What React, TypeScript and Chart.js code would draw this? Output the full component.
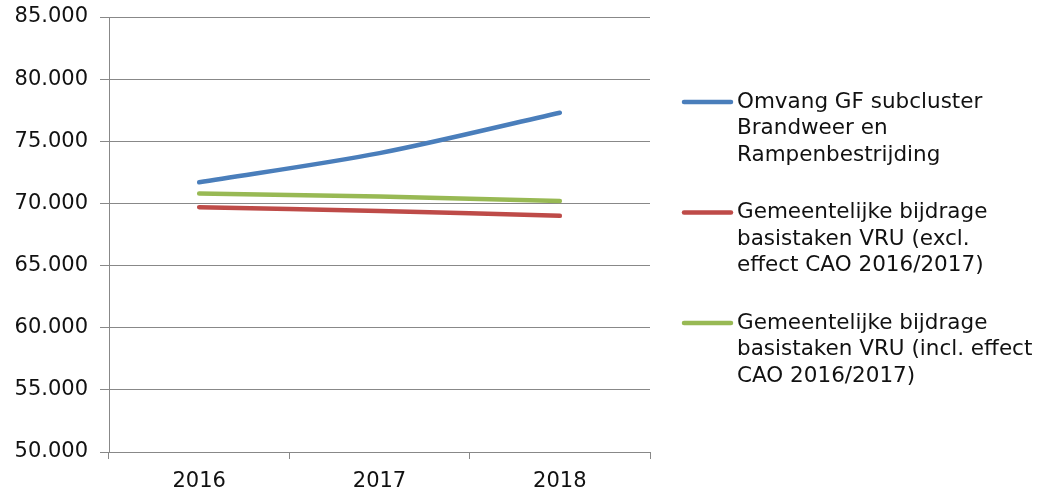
import React, { useEffect, useRef } from "react";
import { Chart, registerables } from "chart.js";

Chart.register(...registerables);

const categories = ["2016", "2017", "2018"];
const seriesNames = [
  ["Omvang GF subcluster", "Brandweer en", "Rampenbestrijding"],
  ["Gemeentelijke bijdrage", "basistaken VRU (excl.", "effect CAO 2016/2017)"],
  ["Gemeentelijke bijdrage", "basistaken VRU (incl. effect", "CAO 2016/2017)"],
];
const omvangGF = [71700, 74050, 77300];
const bijdrageExcl = [69700, 69400, 69000];
const bijdrageIncl = [70800, 70550, 70200];
const seriesColors = ["#4a7ebb", "#be4b48", "#98b954"];
const yMin = 50000;
const yMax = 85000;
const yStep = 5000;

const FONT = "'DejaVu Sans', Verdana, sans-serif";

function formatNL(v: number): string {
  const s = Math.round(v).toString();
  return s.replace(/\B(?=(\d{3})+(?!\d))/g, ".");
}

const legendPlugin = {
  id: "customLegend",
  afterDraw(chart: any) {
    const ctx = chart.ctx;
    ctx.save();
    ctx.font = `21.5px ${FONT}`;
    ctx.textBaseline = "middle";
    ctx.textAlign = "left";
    const startY = 102;
    const itemGap = 110.5;
    const lineH = 26.5;
    chart.data.datasets.forEach((ds: any, i: number) => {
      const y = startY + i * itemGap;
      ctx.strokeStyle = ds.borderColor;
      ctx.lineWidth = 4.5;
      ctx.lineCap = "round";
      ctx.beginPath();
      ctx.moveTo(684, y);
      ctx.lineTo(731, y);
      ctx.stroke();
      ctx.fillStyle = "#111";
      const lines: string[] = ds.legendLines;
      lines.forEach((t, j) => {
        ctx.fillText(t, 737, y + j * lineH);
      });
    });
    ctx.restore();
  },
};

export default function App() {
  const ref = useRef<HTMLCanvasElement | null>(null);
  useEffect(() => {
    document.body.style.margin = "0";
    if (!ref.current) return;
    const values = [omvangGF, bijdrageExcl, bijdrageIncl];
    const chart = new Chart(ref.current, {
      type: "line",
      data: {
        labels: categories,
        datasets: values.map((v, i) => ({
          label: seriesNames[i].join(" "),
          legendLines: seriesNames[i],
          data: v,
          borderColor: seriesColors[i],
          backgroundColor: seriesColors[i],
          borderWidth: 4.5,
          borderCapStyle: "round",
          pointRadius: 0,
          pointHoverRadius: 0,
          tension: 0.3,
          fill: false,
        })) as any,
      },
      options: {
        responsive: false,
        animation: false,
        layout: { padding: { left: 0, top: 17, right: 392, bottom: 0 } },
        plugins: {
          legend: { display: false },
          tooltip: { enabled: false },
        },
        scales: {
          x: {
            offset: true,
            grid: {
              offset: true,
              drawOnChartArea: false,
              drawTicks: true,
              tickLength: 7,
              color: "#888",
              lineWidth: 1,
            },
            border: { display: true, color: "#888", width: 1 },
            ticks: {
              font: { family: FONT, size: 21 },
              color: "#111",
              padding: 10,
              maxRotation: 0,
            },
            afterFit(scale: any) {
              scale.height = 41;
              scale.paddingLeft = 0;
              scale.paddingRight = 0;
            },
          },
          y: {
            min: yMin,
            max: yMax,
            grid: {
              drawOnChartArea: true,
              drawTicks: true,
              tickLength: 9,
              color: "#888",
              lineWidth: 1,
            },
            border: { display: true, color: "#888", width: 1 },
            ticks: {
              stepSize: yStep,
              font: { family: FONT, size: 21 },
              color: "#111",
              padding: 12,
              callback: (v: any) => formatNL(Number(v)),
            },
            afterFit(scale: any) {
              scale.width = 109;
              scale.paddingTop = 0;
              scale.paddingBottom = 0;
            },
          },
        },
      },
      plugins: [legendPlugin],
    });
    return () => chart.destroy();
  }, []);
  return (
    <div style={{ position: "absolute", left: 0, top: 0, width: 1042, height: 493, background: "#fff" }}>
      <canvas ref={ref} width={1042} height={493} style={{ display: "block" }} />
    </div>
  );
}
